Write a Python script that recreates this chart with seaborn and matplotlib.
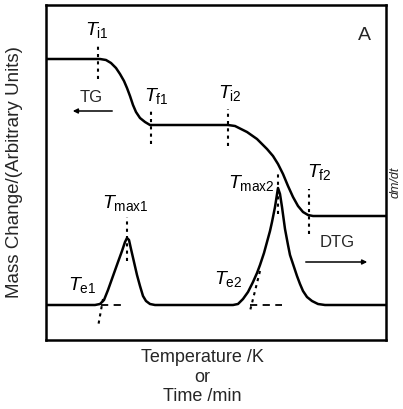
import matplotlib
matplotlib.use("Agg")
import matplotlib.pyplot as plt
import pandas as pd
import seaborn as sns

# TG trace: mass vs temperature (arbitrary units)
tg_temp = [0, 54, 60, 65, 70, 74, 78, 81, 84, 87, 90, 94, 99, 104, 182, 189,
           201, 211, 221, 227, 232, 237, 242, 247, 252, 257, 262, 267, 340]
tg_mass = [281, 281, 280, 277, 272, 266, 259, 252, 244, 235, 228, 222, 218, 215,
           215, 214, 208, 201, 191, 184, 176, 166, 154, 143, 134, 128, 125, 124, 124]

# DTG trace: rate of mass loss vs temperature
dtg_temp = [0, 49, 54, 58, 62, 67, 72, 76, 79, 81, 83, 85, 88, 91, 94, 97, 100,
            104, 109, 187, 192, 197, 202, 207, 211, 214, 218, 221, 224, 226, 229,
            232, 234, 236, 239, 242, 244, 248, 251, 254, 257, 261, 266, 272, 279, 340]
dtg_rate = [35, 35, 36, 40, 50, 64, 78, 89, 98, 102, 100, 91, 78, 65, 54, 44, 39,
            36, 35, 35, 36, 41, 48, 58, 67, 75, 87, 98, 109, 118, 133,
            152, 146, 133, 111, 95, 85, 73, 64, 56, 49, 43, 39, 36, 35, 35]

# characteristic temperatures
T_i1, T_f1, T_i2, T_f2 = 52, 105, 182, 263
T_max1, T_max2 = 81, 232
T_e1, T_e2 = 55, 204

tg = pd.DataFrame({"temp": tg_temp, "mass": tg_mass})
dtg = pd.DataFrame({"temp": dtg_temp, "rate": dtg_rate})

sns.set_style("white")
plt.rcParams["font.family"] = ["Liberation Sans", "DejaVu Sans"]
plt.rcParams["mathtext.fontset"] = "custom"
plt.rcParams["mathtext.rm"] = "Liberation Sans"
plt.rcParams["mathtext.it"] = "Liberation Sans:italic"

fig = plt.figure(figsize=(4.03, 4.10), dpi=100)
ax = fig.add_axes([46 / 403, 69 / 410, 340 / 403, 335 / 410])

sns.lineplot(data=tg, x="temp", y="mass", ax=ax, color="black", lw=1.8)
sns.lineplot(data=dtg, x="temp", y="rate", ax=ax, color="black", lw=1.8)

ax.set_xlim(0, 340)
ax.set_ylim(0, 335)
ax.set_xticks([])
ax.set_yticks([])
ax.set_xlabel("")
ax.set_ylabel("")
for s in ax.spines.values():
    s.set_visible(True)
    s.set_color("black")
    s.set_linewidth(1.8)

dot = dict(color="black", lw=1.5, ls=(0, (1.5, 2.0)))
dash = dict(color="black", lw=1.3, ls=(0, (4, 3)))

# onset / end markers on the TG trace
ax.plot([T_i1, T_i1], [261, 294], **dot)
ax.plot([T_f1, T_f1], [196, 231], **dot)
ax.plot([T_i2, T_i2], [194, 231], **dot)
ax.plot([T_f2, T_f2], [106, 151], **dot)

# peak markers on the DTG trace
ax.plot([T_max1, T_max1], [79, 123], **dot)
ax.plot([T_max2, T_max2], [126, 169], **dot)

# extrapolated onset constructions
ax.plot([T_e1, T_e1 + 25], [35, 35], **dash)
ax.plot([T_e1 + 2, T_e1 - 3], [41, 13], **dot)
ax.plot([T_e2, T_e2 + 32], [35, 35], **dash)
ax.plot([T_e2 + 10, T_e2], [69, 29], **dot)

lab = dict(ha="center", va="center", fontsize=14, color="black")
ax.text(51, 311, r"$T_{\mathrm{i1}}$", **lab)
ax.text(110, 245, r"$T_{\mathrm{f1}}$", **lab)
ax.text(184, 248, r"$T_{\mathrm{i2}}$", **lab)
ax.text(273, 169, r"$T_{\mathrm{f2}}$", **lab)
ax.text(79, 138, r"$T_{\mathrm{max1}}$", **lab)
ax.text(205, 158, r"$T_{\mathrm{max2}}$", **lab)
ax.text(36, 56, r"$T_{\mathrm{e1}}$", **lab)
ax.text(182, 62, r"$T_{\mathrm{e2}}$", **lab)

ax.text(45, 243, "TG", ha="center", va="center", fontsize=12)
ax.annotate("", xy=(24, 229), xytext=(69, 229),
            arrowprops=dict(arrowstyle="-|>", color="black", lw=1.1,
                            mutation_scale=7))
ax.text(291, 98, "DTG", ha="center", va="center", fontsize=12)
ax.annotate("", xy=(324, 78), xytext=(257, 78),
            arrowprops=dict(arrowstyle="-|>", color="black", lw=1.1,
                            mutation_scale=7))
ax.text(318, 305, "A", ha="center", va="center", fontsize=14)

fig.text(202 / 403, 1 - 349 / 410, "Temperature /K\nor\nTime /min",
         ha="center", va="top", multialignment="center", fontsize=13,
         linespacing=1.2)
fig.text(15 / 403, 1 - 172 / 410, "Mass Change/(Arbitrary Units)",
         ha="center", va="center", rotation=90, fontsize=13.5)
fig.text(396 / 403, 1 - 182 / 410, "dm/dt", ha="center", va="center",
         rotation=90, fontsize=9, style="italic")

fig.savefig("out.png", dpi=100)
